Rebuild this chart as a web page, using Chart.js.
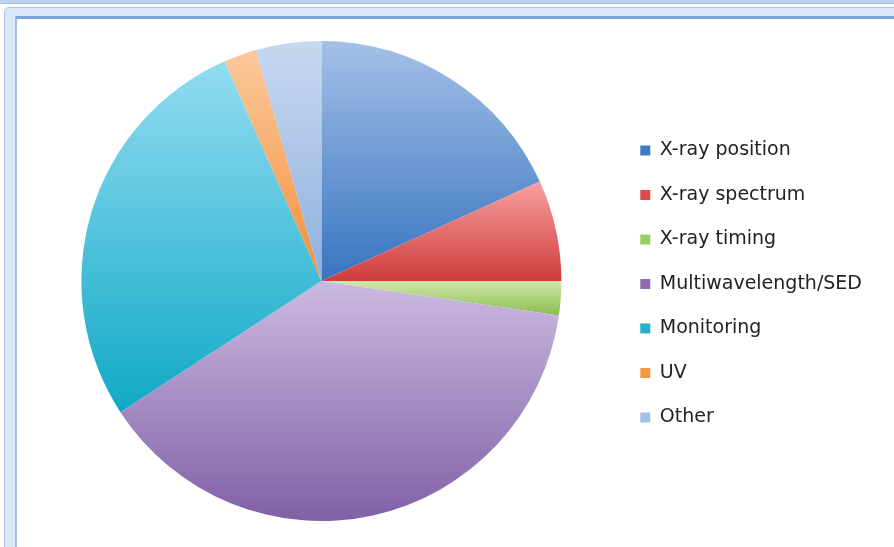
<!DOCTYPE html>
<html lang="en">
<head>
<meta charset="UTF-8">
<title>Follow-up observations by type</title>
<style>
  body { margin: 0; background: #fff; }
  .sheet { position: relative; width: 894px; height: 547px; overflow: hidden; background: #fff; }
  /* spreadsheet strip and chart frame */
  .topbar { position: absolute; left: 0; top: 0; width: 894px; height: 3px; background: #bcd5f3; border-bottom: 1px solid #9fbde6; }
  .frame { position: absolute; left: 4px; top: 7px; width: 900px; height: 548px; border: 1px solid #a9c4e8; border-radius: 5px; background: #dbe8f8; }
  .inner { position: absolute; left: 15px; top: 16px; width: 890px; height: 540px; border-left: 2px solid #a6bfe2; border-top: 3px solid #7ea3d6; background: #fff; }
  #pieChart { position: absolute; left: 0; top: 0; }
</style>
</head>
<body>
<div class="sheet">
  <div class="topbar"></div>
  <div class="frame"></div>
  <div class="inner"></div>
  <canvas id="pieChart" width="894" height="547"></canvas>
</div>

<script src="https://cdn.jsdelivr.net/npm/chart.js"></script>
<script>
  // Categories and their share of the pie (percent)
  const categories = ['X-ray position', 'X-ray spectrum', 'X-ray timing', 'Multiwavelength/SED', 'Monitoring', 'UV', 'Other'];
  const shares = [18.2, 6.8, 2.3, 38.5, 27.6, 2.2, 4.4];

  // Gradient ends per slice (top -> bottom) and the flat legend swatches
  const topColors = ['#a4c0e7', '#f8a0a0', '#cfe8aa', '#cbbae1', '#93dcf1', '#fcc89c', '#c6d9f0'];
  const bottomColors = ['#3774c0', '#d03c3c', '#8bbd4e', '#8060a6', '#10a9c6', '#f0903a', '#90b0df'];
  const legendColors = ['#3d7cc8', '#df4a4a', '#9ccf63', '#8e6cb3', '#22b2cc', '#f5983c', '#a3c1e8'];

  // Vertical gradient spanning each slice's own height
  function sliceFill(context) {
    const chart = context.chart;
    const area = chart.chartArea;
    const i = context.dataIndex;
    if (!area || i === undefined) return topColors[i || 0];
    const cx = (area.left + area.right) / 2;
    const cy = (area.top + area.bottom) / 2;
    const r = Math.min(area.right - area.left, area.bottom - area.top) / 2;
    const total = shares.reduce((a, b) => a + b, 0);
    const before = shares.slice(0, i).reduce((a, b) => a + b, 0);
    const start = -Math.PI / 2 + before / total * 2 * Math.PI;
    const end = start + shares[i] / total * 2 * Math.PI;
    let minY = cy, maxY = cy;
    for (let k = 0; k <= 40; k++) {
      const y = cy + r * Math.sin(start + (end - start) * k / 40);
      minY = Math.min(minY, y);
      maxY = Math.max(maxY, y);
    }
    const g = chart.ctx.createLinearGradient(0, minY, 0, maxY);
    g.addColorStop(0, topColors[i]);
    g.addColorStop(1, bottomColors[i]);
    return g;
  }

  const pieChart = new Chart(document.getElementById('pieChart').getContext('2d'), {
    type: 'pie',
    data: {
      labels: categories,
      datasets: [{
        data: shares,
        backgroundColor: sliceFill,
        borderWidth: 0
      }]
    },
    options: {
      responsive: false,
      animation: false,
      events: [],
      layout: {
        padding: { left: 28, right: 22, top: 41, bottom: 26 }
      },
      plugins: {
        tooltip: { enabled: false },
        legend: {
          position: 'right',
          // tiny blank title nudges the entries down a little
          title: { display: true, text: ' ', font: { size: 5 }, padding: 0 },
          labels: {
            boxWidth: 10,
            boxHeight: 10,
            padding: 25.5,
            color: '#222',
            font: { family: 'DejaVu Sans', size: 19 },
            generateLabels: () => categories.map((c, i) => ({
              text: c,
              fillStyle: legendColors[i],
              strokeStyle: legendColors[i],
              lineWidth: 0,
              hidden: false,
              index: i,
              fontColor: '#222'
            }))
          }
        }
      }
    }
  });
</script>
</body>
</html>
